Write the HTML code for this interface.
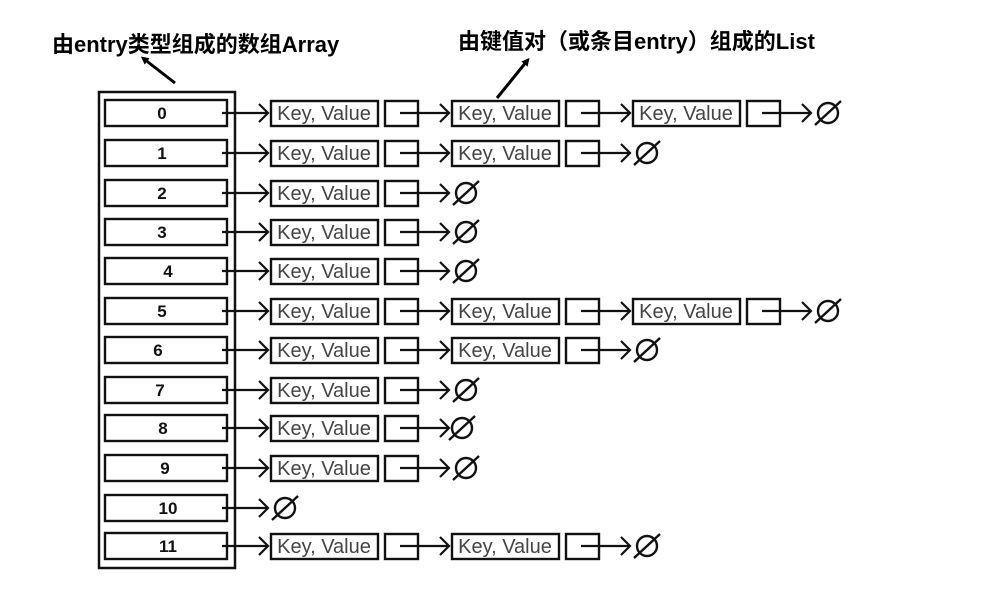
<!DOCTYPE html>
<html><head><meta charset="utf-8"><style>
html,body{margin:0;padding:0;background:#fff;}
svg{display:block}
.t{font-family:"Liberation Sans","Noto Sans CJK SC",sans-serif;font-weight:bold;font-size:22px;fill:#000}
.kv{font-family:"Liberation Sans",sans-serif;font-size:20px;fill:#444;text-anchor:middle}
.n{font-family:"Liberation Sans",sans-serif;font-size:17px;font-weight:bold;fill:#111;text-anchor:middle}
</style></head><body>
<svg width="993" height="590" viewBox="0 0 993 590" xmlns="http://www.w3.org/2000/svg">
<defs>
<marker id="ah" markerWidth="8" markerHeight="8" refX="4" refY="4" orient="auto" markerUnits="userSpaceOnUse"><path d="M0,0 L8,4 L0,8 Z" fill="#000"/></marker>
<g id="arr" fill="none" stroke="#111" stroke-width="2.2"><line x1="0" y1="0" x2="46" y2="0"/><polyline points="37,-9 46,0 37,9"/></g>
<g id="node" fill="none" stroke="#111" stroke-width="2.4"><rect x="49" y="-12" width="107" height="25"/><rect x="163" y="-12" width="33" height="25"/><line x1="178" y1="0" x2="227" y2="0" stroke-width="2.2"/><polyline points="218,-9 227,0 218,9" stroke-width="2.2"/></g>
<g id="nul" fill="none" stroke="#111" stroke-width="2.4"><ellipse cx="0" cy="0" rx="10" ry="10"/><line x1="-13" y1="12" x2="13" y2="-12"/></g>
</defs>
<text class="t" x="52" y="52">由entry类型组成的数组Array</text>
<text class="t" x="458" y="49">由键值对（或条目entry）组成的List</text>
<line x1="175" y1="83" x2="144" y2="59" stroke="#000" stroke-width="3" marker-end="url(#ah)"/>
<line x1="497" y1="98" x2="527" y2="61" stroke="#000" stroke-width="3" marker-end="url(#ah)"/>
<rect x="99" y="92" width="136" height="476" fill="none" stroke="#111" stroke-width="2.5"/>
<g fill="none" stroke="#111" stroke-width="2.4">
<rect x="105" y="100" width="122" height="26"/><rect x="105" y="140" width="122" height="26"/><rect x="105" y="180" width="122" height="26"/><rect x="105" y="219" width="122" height="26"/><rect x="105" y="258" width="122" height="26"/><rect x="105" y="298" width="122" height="26"/><rect x="105" y="337" width="122" height="26"/><rect x="105" y="377" width="122" height="26"/><rect x="105" y="415" width="122" height="26"/><rect x="105" y="455" width="122" height="26"/><rect x="105" y="495" width="122" height="26"/><rect x="105" y="533" width="122" height="26"/>
</g>
<text class="n" x="162" y="119">0</text><text class="n" x="162" y="159">1</text><text class="n" x="162" y="199">2</text><text class="n" x="162" y="238">3</text><text class="n" x="168" y="277">4</text><text class="n" x="162" y="317">5</text><text class="n" x="158" y="356">6</text><text class="n" x="160" y="396">7</text><text class="n" x="163" y="434">8</text><text class="n" x="165" y="474">9</text><text class="n" x="168" y="514">10</text><text class="n" x="168" y="552">11</text>
<g transform="translate(222,113)"><use href="#arr"/><use href="#node"/><use href="#node" x="181"/><use href="#node" x="362"/><use href="#nul" x="606"/><text class="kv" x="102" y="7">Key, Value</text><text class="kv" x="283" y="7">Key, Value</text><text class="kv" x="464" y="7">Key, Value</text></g>
<g transform="translate(222,153)"><use href="#arr"/><use href="#node"/><use href="#node" x="181"/><use href="#nul" x="425"/><text class="kv" x="102" y="7">Key, Value</text><text class="kv" x="283" y="7">Key, Value</text></g>
<g transform="translate(222,193)"><use href="#arr"/><use href="#node"/><use href="#nul" x="244"/><text class="kv" x="102" y="7">Key, Value</text></g>
<g transform="translate(222,232)"><use href="#arr"/><use href="#node"/><use href="#nul" x="244"/><text class="kv" x="102" y="7">Key, Value</text></g>
<g transform="translate(222,271)"><use href="#arr"/><use href="#node"/><use href="#nul" x="244"/><text class="kv" x="102" y="7">Key, Value</text></g>
<g transform="translate(222,311)"><use href="#arr"/><use href="#node"/><use href="#node" x="181"/><use href="#node" x="362"/><use href="#nul" x="606"/><text class="kv" x="102" y="7">Key, Value</text><text class="kv" x="283" y="7">Key, Value</text><text class="kv" x="464" y="7">Key, Value</text></g>
<g transform="translate(222,350)"><use href="#arr"/><use href="#node"/><use href="#node" x="181"/><use href="#nul" x="425"/><text class="kv" x="102" y="7">Key, Value</text><text class="kv" x="283" y="7">Key, Value</text></g>
<g transform="translate(222,390)"><use href="#arr"/><use href="#node"/><use href="#nul" x="244"/><text class="kv" x="102" y="7">Key, Value</text></g>
<g transform="translate(222,428)"><use href="#arr"/><use href="#node"/><use href="#nul" x="240"/><text class="kv" x="102" y="7">Key, Value</text></g>
<g transform="translate(222,468)"><use href="#arr"/><use href="#node"/><use href="#nul" x="244"/><text class="kv" x="102" y="7">Key, Value</text></g>
<g transform="translate(222,508)"><use href="#arr"/><use href="#nul" x="63"/></g>
<g transform="translate(222,546)"><use href="#arr"/><use href="#node"/><use href="#node" x="181"/><use href="#nul" x="425"/><text class="kv" x="102" y="7">Key, Value</text><text class="kv" x="283" y="7">Key, Value</text></g>
</svg>
</body></html>
